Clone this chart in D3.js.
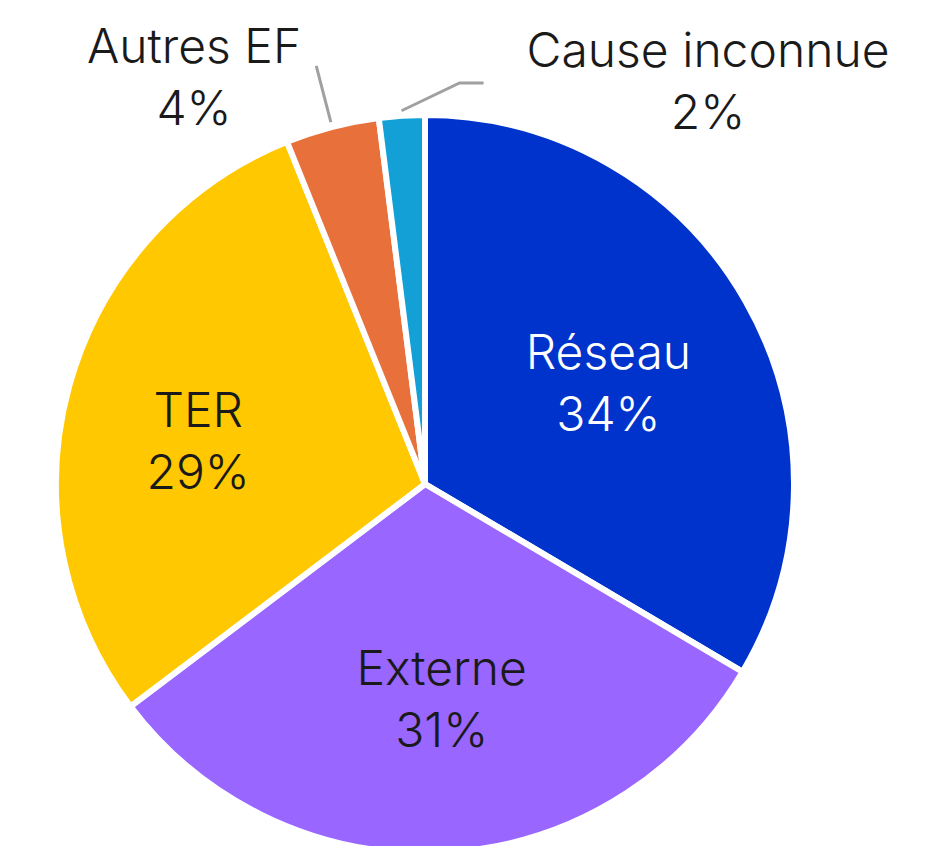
<!DOCTYPE html>
<html>
<head>
<meta charset="utf-8">
<script src="https://cdn.jsdelivr.net/npm/d3@7"></script>
<style>
    html, body { margin: 0; padding: 0; background: #fff; }
    svg text { font-family: Inter, "Noto Sans", sans-serif; font-weight: 300; }
</style>
</head>
<body>
<svg id="chart" width="933" height="846"></svg>
<script>
var categories = ["Réseau", "Externe", "TER", "Autres EF", "Cause inconnue"];
var values = [33.5, 31.2, 29.2, 4.1, 2.0];
var valueLabels = ["34%", "31%", "29%", "4%", "2%"];
var colors = ["#0033cc", "#9966ff", "#ffc800", "#e8703a", "#12a0d7"];
var textColors = ["#ffffff", "#1a1a1a", "#1a1a1a", "#1a1a1a", "#1a1a1a"];

(function () {
    var svg = d3.select("#chart"),
        cx = 425,
        cy = 484,
        radius = 369;

    var data = categories.map(function (c, i) {
        return { name: c, value: values[i], label: valueLabels[i], color: colors[i], text: textColors[i] };
    });

    var pie = d3.pie()
        .sort(null)
        .value(function (d) { return d.value; })(data);

    var arc = d3.arc()
        .outerRadius(radius)
        .innerRadius(0);

    var labelArc = d3.arc()
        .outerRadius(225)
        .innerRadius(225);

    var g = svg.append("g")
        .attr("transform", "translate(" + cx + "," + cy + ")");

    g.selectAll(".slice")
        .data(pie)
        .enter().append("path")
        .attr("class", "slice")
        .attr("d", arc)
        .style("fill", function (d) { return d.data.color; })
        .style("stroke", "#fff")
        .style("stroke-width", 6)
        .style("stroke-linejoin", "round");

    // small slices get their labels outside with a leader line
    var inside = pie.filter(function (d) { return d.data.value >= 10; });
    var outside = pie.filter(function (d) { return d.data.value < 10; });

    // nudges so the inside labels sit like the original
    var nudge = { "Réseau": [-12, 10], "TER": [-10, 17], "Externe": [4, -10] };

    var inLabels = g.selectAll(".inlabel")
        .data(inside)
        .enter().append("text")
        .attr("class", "inlabel")
        .attr("transform", function (d) {
            var p = labelArc.centroid(d), n = nudge[d.data.name] || [0, 0];
            return "translate(" + (p[0] + n[0]) + "," + (p[1] + n[1]) + ")";
        })
        .style("text-anchor", "middle")
        .style("font-size", "48px")
        .style("fill", function (d) { return d.data.text; });

    inLabels.append("tspan")
        .attr("x", 0)
        .attr("y", -14)
        .text(function (d) { return d.data.name; });

    inLabels.append("tspan")
        .attr("x", 0)
        .attr("y", 48)
        .text(function (d) { return d.data.label; });

    function polar(r, a) {
        return [r * Math.sin(a), -r * Math.cos(a)];
    }

    // leader line ends and label anchors, relative to the centre
    var leaders = {
        "Autres EF": { r: 432, tail: 0, lx: -231, ly: -421 },
        "Cause inconnue": { r: 405, tail: 24, lx: 283, ly: -417 }
    };

    outside.forEach(function (d) {
        var a = (d.startAngle + d.endAngle) / 2,
            L = leaders[d.data.name],
            p0 = polar(radius + 5, a),
            p1 = polar(L.r, a);
        if (d.data.name === "Cause inconnue") {
            p1 = [p1[0] + 60, -401];
        }
        var pts = [p0, p1];
        if (L.tail) pts.push([p1[0] + L.tail, p1[1]]);

        g.append("path")
            .attr("d", d3.line()(pts))
            .style("fill", "none")
            .style("stroke", "#a0a0a0")
            .style("stroke-width", 3);

        var t = g.append("text")
            .style("text-anchor", "middle")
            .style("font-size", "48px")
            .style("fill", d.data.text);
        t.append("tspan").attr("x", L.lx).attr("y", L.ly).text(d.data.name);
        t.append("tspan").attr("x", L.lx).attr("y", L.ly + 62).text(d.data.label);
    });
})();
</script>
</body>
</html>
